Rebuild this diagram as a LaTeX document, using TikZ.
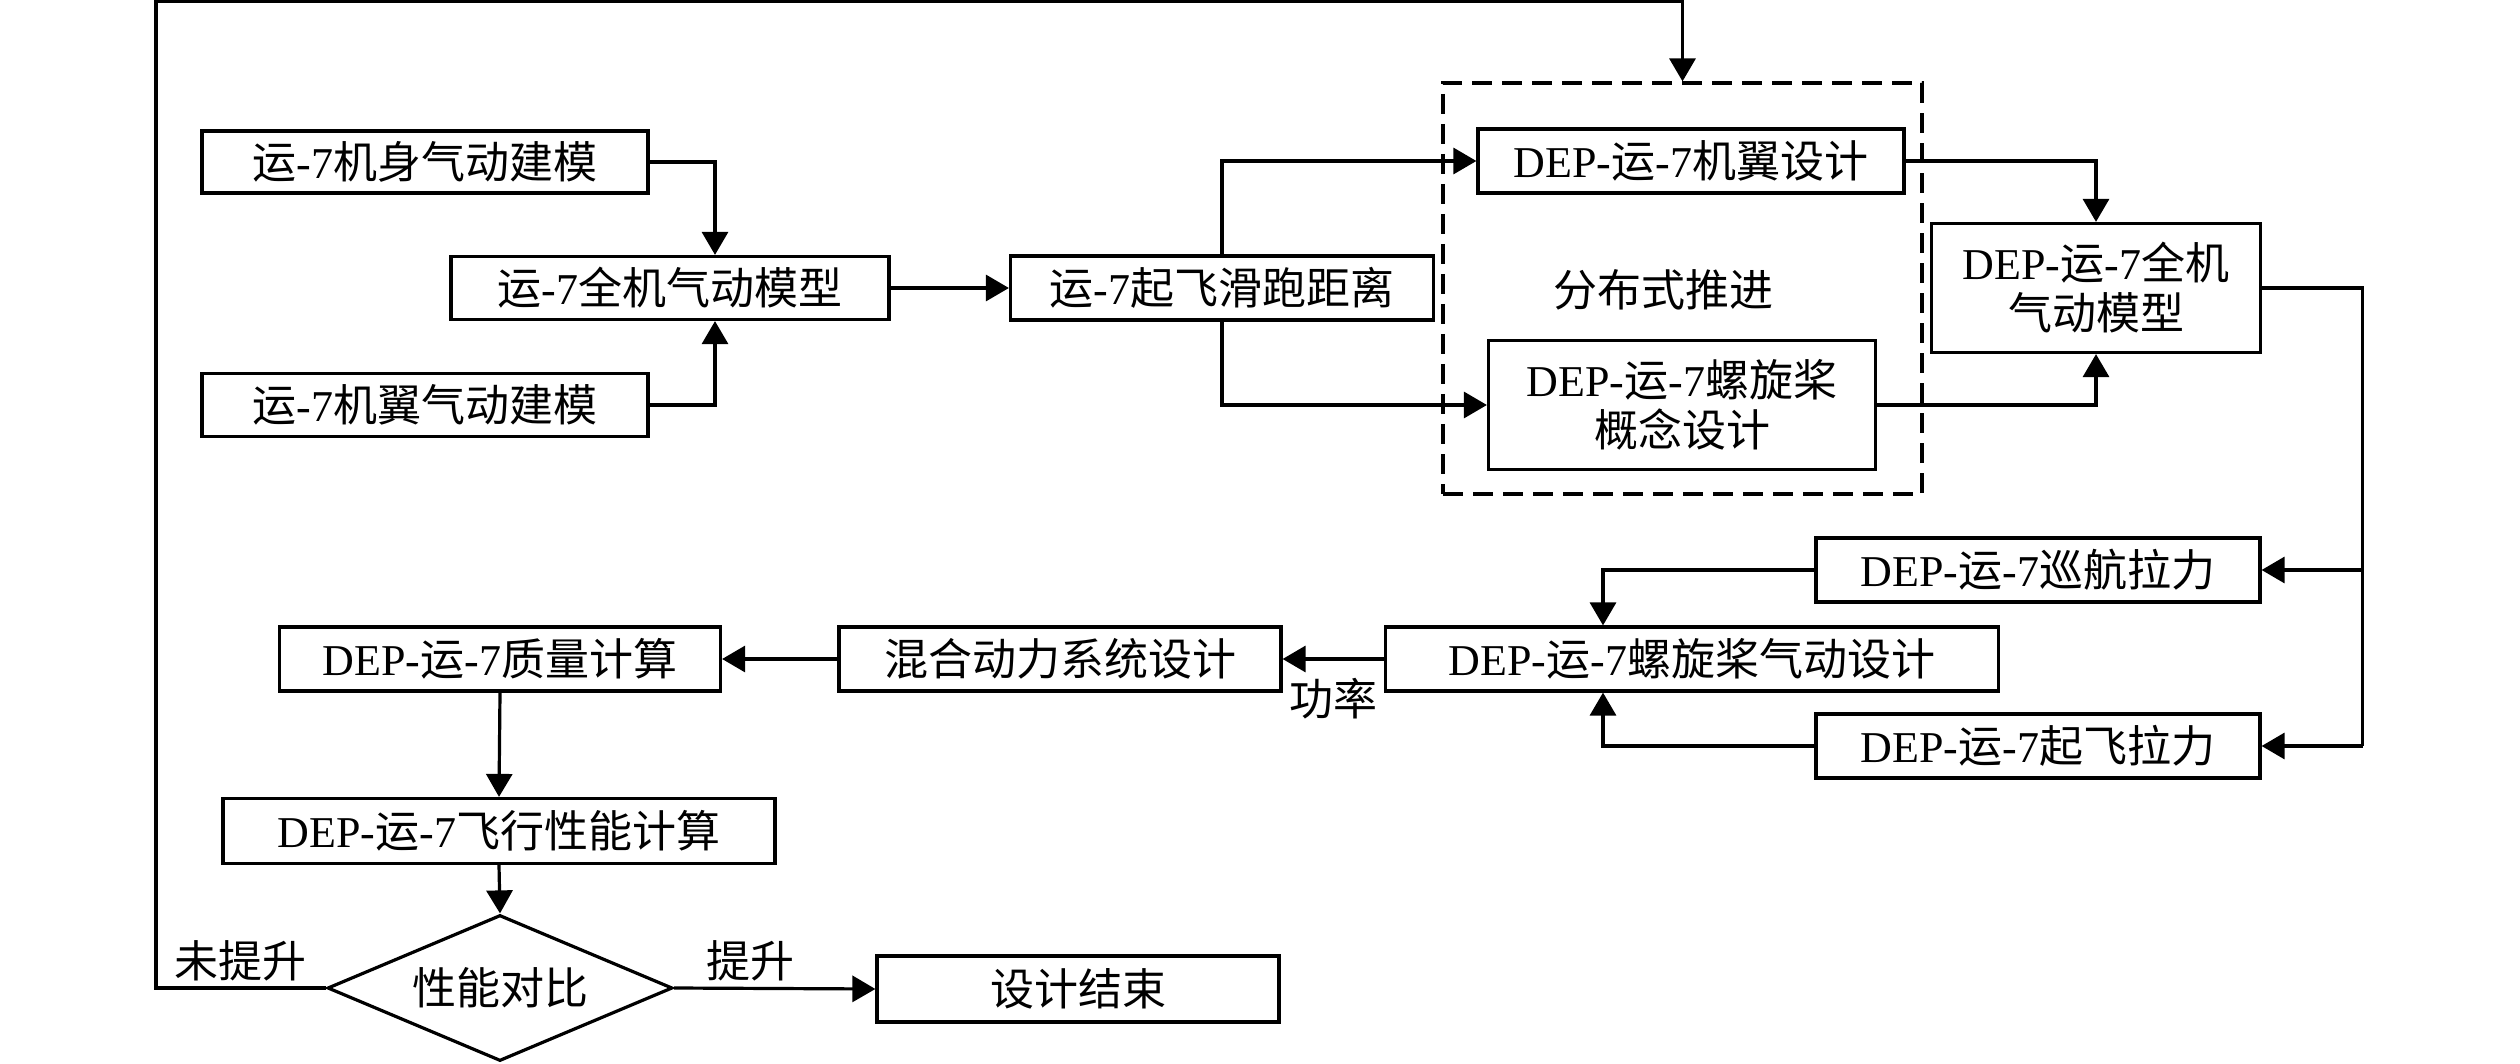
\documentclass[tikz,border=0pt]{standalone}
\usepackage{fontspec}
\setmainfont{Liberation Serif}
\newfontfamily\cjk{Noto Sans CJK SC}
\newcommand\zh[1]{{\cjk #1}}
\usetikzlibrary{arrows.meta,shapes.geometric}
\begin{document}
\begin{tikzpicture}[x=1pt,y=-1pt,
 txt/.style={font=\fontsize{44}{50}\selectfont},
 box/.style={txt,draw,line width=3.2pt,inner sep=0pt,align=center},
 arr/.style={line width=3.2pt,-{Triangle[length=23pt,width=26pt]}},
 ln/.style={line width=3.2pt},
]
\useasboundingbox (0,0) rectangle (2520,1064);
% top-left block
\node[box,minimum width=446,minimum height=62] (a1) at (425,162) {\zh{运}-7\zh{机身气动建模}};
\node[box,minimum width=438,minimum height=63] (a2) at (670,288) {\zh{运}-7\zh{全机气动模型}};
\node[box,minimum width=446,minimum height=63] (a3) at (425,405) {\zh{运}-7\zh{机翼气动建模}};
\node[box,minimum width=423,minimum height=64] (a4) at (1222,288) {\zh{运}-7\zh{起飞滑跑距离}};
% distributed propulsion group
\node[draw,line width=3.2pt,dash pattern=on 20pt off 10pt,minimum width=479,minimum height=411,inner sep=0pt] (grp) at (1682.5,288.5) {};
\node[box,minimum width=426,minimum height=64] (b1) at (1691,161) {DEP-\zh{运}-7\zh{机翼设计}};
\node[box,minimum width=387,minimum height=129] (b2) at (1682,405) {DEP-\zh{运}-7\zh{螺旋桨}\\\zh{概念设计}};
\node[txt,inner sep=0pt] (dist) at (1663,290) {\zh{分布式推进}};
\node[box,minimum width=329,minimum height=129] (c1) at (2096,288) {DEP-\zh{运}-7\zh{全机}\\\zh{气动模型}};
% propeller block
\node[box,minimum width=444,minimum height=64] (d1) at (2038,570) {DEP-\zh{运}-7\zh{巡航拉力}};
\node[box,minimum width=444,minimum height=64] (d2) at (2038,746) {DEP-\zh{运}-7\zh{起飞拉力}};
\node[box,minimum width=613,minimum height=64] (e1) at (1692,659) {DEP-\zh{运}-7\zh{螺旋桨气动设计}};
\node[box,minimum width=442,minimum height=64] (f1) at (1060,659) {\zh{混合动力系统设计}};
\node[box,minimum width=441,minimum height=64] (f2) at (500,659) {DEP-\zh{运}-7\zh{质量计算}};
\node[box,minimum width=552,minimum height=65] (g) at (499,831) {DEP-\zh{运}-7\zh{飞行性能计算}};
\node[box,shape=diamond,aspect=2.36,minimum width=345,minimum height=146] (dia) at (500,988) {\zh{性能对比}};
\node[box,minimum width=402,minimum height=66] (h) at (1078,989) {\zh{设计结束}};
% connectors
\draw[arr] (a1.east) -| ([xshift=45pt]a2.north);
\draw[arr] (a3.east) -| ([xshift=45pt]a2.south);
\draw[arr] (a2.east) -- (a4.west);
\draw[arr] (a4.north) |- (b1.west);
\draw[arr] (a4.south) |- (b2.west);
\draw[arr] (b1.east) -| (c1.north);
\draw[arr] (b2.east) -| (c1.south);
\draw[ln] (c1.east) -| ([xshift=101pt]d2.east);
\draw[arr] ([xshift=101pt]d2.east) -- (d2.east);
\draw[arr] ([xshift=101pt]d1.east) -- (d1.east);
\draw[arr] (d1.west) -| ([xshift=-89pt]e1.north);
\draw[arr] (d2.west) -| ([xshift=-89pt]e1.south);
\draw[arr] (e1.west) -- node[txt,below=14pt] (pw) {\zh{功率}} (f1.east);
\draw[arr] (f1.west) -- (f2.east);
\draw[arr] (f2.south) -- (g.north);
\draw[arr] (g.south) -- (dia.north);
\draw[arr] (dia.east) -- node[txt,above=2pt,pos=0.38] (up) {\zh{提升}} (h.west);
\draw[arr] (dia.west) -- node[txt,above=2pt,pos=0.5] (noup) {\zh{未提升}} ++(-170pt,0) |- ([yshift=80pt]grp.north) -- (grp.north);
\end{tikzpicture}
\end{document}
